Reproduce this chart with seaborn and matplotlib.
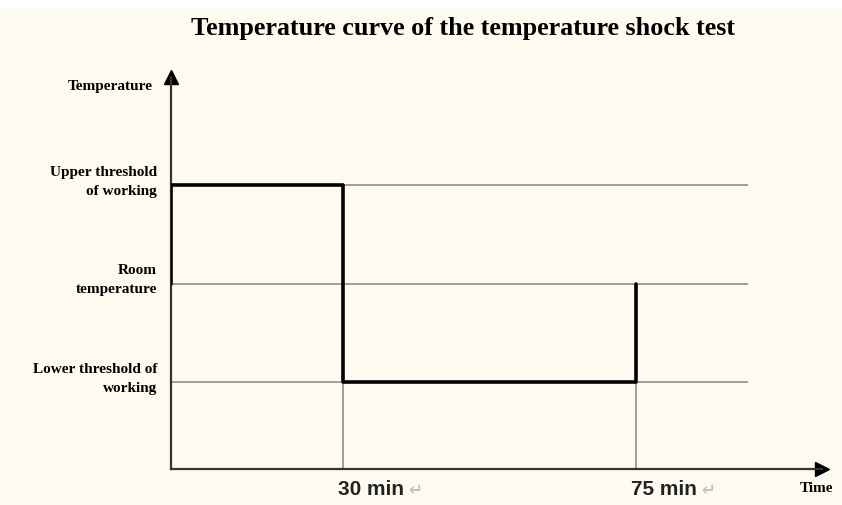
import numpy as np
import seaborn as sns
import matplotlib.pyplot as plt
from matplotlib.patches import Rectangle
from matplotlib.transforms import ScaledTranslation

# step profile of the test (time in minutes, temperature as level index)
time_min = [0, 0, 30, 30, 75, 75]
temp_level = [2, 3, 3, 1, 1, 2]

level_values = [1, 2, 3]
level_labels = ["Lower threshold of\nworking", "Room\ntemperature", "Upper threshold\nof working"]

time_marks = [30, 75]
time_labels = ["30 min", "75 min"]

BG = "#fdfaf0"
GUIDE = "#8f8f8f"


# schematic time axis: the two phases are not drawn to the same scale
def fwd(t):
    t = np.asarray(t, dtype=float)
    return np.where(t <= 30, t * 172 / 30, 172 + (t - 30) * 293 / 45)


def inv(p):
    p = np.asarray(p, dtype=float)
    return np.where(p <= 172, p * 30 / 172, 30 + (p - 172) * 45 / 293)


sns.set_theme(style="white")
plt.rcParams["font.family"] = ["Liberation Serif", "DejaVu Serif"]
plt.rcParams["font.weight"] = "bold"
plt.rcParams["text.color"] = "black"
plt.rcParams["ytick.color"] = "black"

fig = plt.figure(figsize=(8.42, 5.05), dpi=100, facecolor=BG)
W, H = 842, 505
fig.patches.append(Rectangle((0, 1 - 8 / H), 1, 8 / H, color="white",
                             transform=fig.transFigure, zorder=0))
x0, x1, y0, y1 = 171, 822, 469, 77
ax = fig.add_axes([x0 / W, 1 - y0 / H, (x1 - x0) / W, (y0 - y1) / H])
ax.set_facecolor(BG)

ax.set_xscale("function", functions=(fwd, inv))
ax.set_xlim(0, 103.6)
ax.set_ylim(0.12, 4.10)

# gray guide lines
ax.hlines(level_values, 0, 92.2, color=GUIDE, lw=1.2, zorder=1)
ax.vlines(time_marks, 0.12, min(level_values), color=GUIDE, lw=1.2, zorder=1)

# the temperature curve
sns.lineplot(x=time_min, y=temp_level, sort=False, estimator=None,
             color="black", lw=2.6, ax=ax, zorder=3)

# axes with arrow heads
for side in ["top", "right"]:
    ax.spines[side].set_visible(False)
for side in ["left", "bottom"]:
    ax.spines[side].set_color("#333333")
    ax.spines[side].set_linewidth(1.6)
ax.plot(1, 0, ">", color="black", ms=10, transform=ax.transAxes, clip_on=False)
ax.plot(0, 1, "^", color="black", ms=10, transform=ax.transAxes, clip_on=False)

ax.set_yticks(level_values)
ax.set_yticklabels(level_labels, fontsize=11, fontweight="bold",
                   linespacing=1.6, ha="right")
ax.tick_params(axis="y", length=0, pad=10)
for lab in ax.get_yticklabels():
    lab.set_transform(lab.get_transform() + ScaledTranslation(0, 8 / 100, fig.dpi_scale_trans))

ax.set_xticks(time_marks)
ax.set_xticklabels(time_labels, fontsize=15, fontweight="bold", color="#222222",
                   family=["Liberation Sans Narrow", "Liberation Sans"], ha="left")
ax.tick_params(axis="x", length=0, pad=8)
for lab in ax.get_xticklabels():
    lab.set_transform(lab.get_transform() + ScaledTranslation(-5 / 100, 0, fig.dpi_scale_trans))
for t in time_marks:
    ax.annotate("\u21b5", xy=(t, 0), xycoords=("data", "axes fraction"),
                xytext=(47, -15), textcoords="offset points", fontsize=12,
                color="#c4c4c4", family="DejaVu Sans", va="center")

ax.set_xlabel("")
ax.set_ylabel("")

fig.text(153 / W, 1 - 87 / H, "Temperature", ha="right", va="center",
         fontsize=11, fontweight="bold")
fig.text(816 / W, 1 - 489 / H, "Time", ha="center", va="center",
         fontsize=11, fontweight="bold")
fig.text(463 / W, 1 - 28 / H, "Temperature curve of the temperature shock test",
         ha="center", va="center", fontsize=18.8, fontweight="bold")

fig.savefig("out.png", dpi=100, facecolor=BG)
